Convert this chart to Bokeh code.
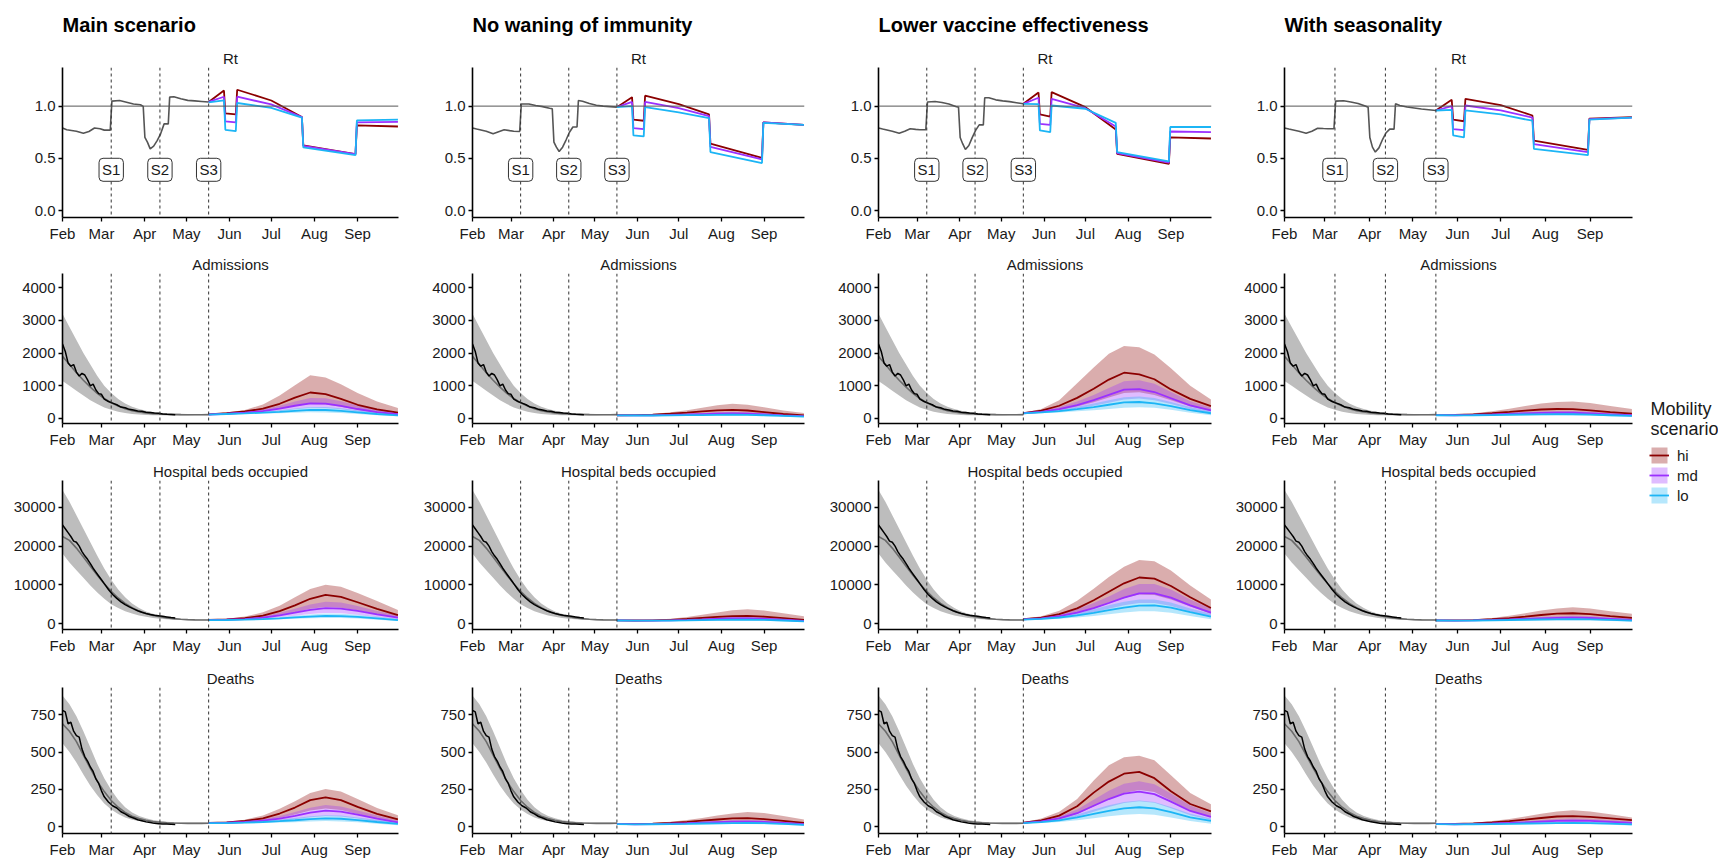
from bokeh.plotting import figure
from bokeh.models import (Range1d, FixedTicker, Span, Label, Title, Legend,
                          LegendItem, NumeralTickFormatter)
from bokeh.layouts import row, column
from bokeh.embed import file_html
from bokeh.resources import INLINE

FONT = "Liberation Sans"

# ---------------- axes / labels ----------------
MONTH_TICKS = [0, 28, 59, 89, 120, 150, 181, 212]          # days since 1 Feb
MONTH_LABELS = ["Feb", "Mar", "Apr", "May", "Jun", "Jul", "Aug", "Sep"]
STEP_DAYS = [35, 70, 105]
STEP_LABELS = ["S1", "S2", "S3"]
COLS = ["main", "nowane", "lowve", "season"]
COL_TITLES = ["Main scenario", "No waning of immunity",
              "Lower vaccine effectiveness", "With seasonality"]
METRICS = ["rt", "adm", "beds", "deaths"]
ROW_TITLES = ["Rt", "Admissions", "Hospital beds occupied", "Deaths"]
Y_TICKS = [[0, 0.5, 1.0], [0, 1000, 2000, 3000, 4000],
           [0, 10000, 20000, 30000], [0, 250, 500, 750]]
SCEN = ["hi", "md", "lo"]
LEGEND_TITLE = "Mobility\nscenario"

# ---------------- Rt ----------------
RT_HIST_DAYS = [0, 3, 10, 15, 19, 23, 27, 30, 34.3, 35.5, 41, 46, 51, 56, 58, 59.2, 61, 63,
                65.5, 68, 70.5, 73, 76, 77, 80, 85, 90, 95, 100, 105]
rt_hist_main = [0.79, 0.773, 0.76, 0.74, 0.757, 0.79, 0.783, 0.77, 0.77, 1.048, 1.054, 1.038,
                1.02, 1.013, 0.997, 0.70, 0.655, 0.59, 0.617, 0.67, 0.735, 0.83, 0.83, 1.086,
                1.09, 1.07, 1.055, 1.05, 1.045, 1.04]
rt_hist_nowane = [0.79, 0.78, 0.76, 0.735, 0.755, 0.773, 0.765, 0.76, 0.757, 1.02, 1.02, 1.006,
                  0.995, 0.98, 0.975, 0.655, 0.607, 0.565, 0.607, 0.675, 0.75, 0.80, 0.80, 1.054,
                  1.047, 1.025, 1.008, 1.0, 0.995, 0.99]
rt_hist_lowve = [0.79, 0.78, 0.76, 0.74, 0.76, 0.783, 0.777, 0.773, 0.773, 1.04, 1.045, 1.035,
                 1.02, 0.997, 0.99, 0.70, 0.64, 0.585, 0.623, 0.70, 0.77, 0.82, 0.82, 1.08,
                 1.08, 1.06, 1.05, 1.043, 1.033, 1.022]
rt_hist_season = [0.79, 0.78, 0.76, 0.74, 0.76, 0.788, 0.785, 0.783, 0.783, 1.048, 1.052, 1.04,
                  1.025, 1.0, 0.99, 0.70, 0.607, 0.56, 0.60, 0.68, 0.745, 0.78, 0.78, 1.022,
                  1.006, 0.992, 0.982, 0.972, 0.965, 0.958]

RT_PROJ_DAYS = [105, 116, 117, 124.5, 125.5, 150, 172, 173, 210.5, 211.5, 241]
rt_main_hi = [1.04, 1.15, 0.93, 0.92, 1.157, 1.054, 0.895, 0.625, 0.54, 0.815, 0.805]
rt_main_md = [1.04, 1.09, 0.853, 0.845, 1.09, 1.016, 0.895, 0.62, 0.54, 0.845, 0.85]
rt_main_lo = [1.035, 1.055, 0.773, 0.76, 1.03, 0.984, 0.89, 0.605, 0.53, 0.863, 0.87]
rt_nowane_hi = [0.99, 1.086, 0.87, 0.86, 1.10, 1.02, 0.92, 0.64, 0.505, 0.845, 0.82]
rt_nowane_md = [0.99, 1.04, 0.79, 0.78, 1.04, 0.98, 0.905, 0.61, 0.49, 0.845, 0.82]
rt_nowane_lo = [0.99, 1.0, 0.72, 0.71, 0.99, 0.94, 0.885, 0.56, 0.455, 0.84, 0.82]
rt_lowve_hi = [1.022, 1.13, 0.92, 0.90, 1.134, 0.99, 0.776, 0.543, 0.447, 0.70, 0.69]
rt_lowve_md = [1.022, 1.08, 0.83, 0.82, 1.07, 0.98, 0.805, 0.55, 0.46, 0.757, 0.75]
rt_lowve_lo = [1.022, 1.02, 0.767, 0.75, 1.006, 0.975, 0.84, 0.56, 0.47, 0.80, 0.80]
rt_season_hi = [0.958, 1.06, 0.87, 0.855, 1.07, 1.01, 0.91, 0.67, 0.58, 0.88, 0.895]
rt_season_md = [0.958, 1.0, 0.78, 0.77, 1.006, 0.96, 0.89, 0.635, 0.56, 0.875, 0.89]
rt_season_lo = [0.958, 0.965, 0.72, 0.70, 0.96, 0.92, 0.86, 0.59, 0.53, 0.87, 0.89]

# ---------------- observed data ----------------
OBS_DAYS = [0, 2, 4, 6, 8, 10, 12, 14, 16, 18, 20, 22, 24, 26, 28, 30, 33, 36, 39, 42, 45,
            48, 51, 54, 57, 60, 63, 66, 69, 72, 75, 78, 81]
adm_obs = [2280, 2050, 1700, 1600, 1650, 1420, 1300, 1380, 1330, 1180, 1000, 1050, 870, 760,
           740, 590, 520, 470, 420, 350, 330, 280, 260, 230, 220, 190, 185, 165, 160, 140,
           130, 125, 115]
beds_obs = [25500, 24500, 23500, 22500, 21300, 21000, 20000, 18600, 17500, 16600, 15500,
            14300, 13300, 12300, 11300, 10300, 8800, 7500, 6500, 5600, 4900, 4300, 3800, 3300,
            2900, 2600, 2350, 2150, 2000, 1850, 1700, 1550, 1450]
deaths_obs = [780, 770, 690, 700, 640, 610, 600, 520, 470, 440, 400, 370, 320, 290, 240, 200,
              165, 140, 125, 100, 85, 68, 58, 46, 40, 32, 28, 22, 20, 18, 17, 16, 15]

# ---------------- model fit to data ----------------
HIST_DAYS = [0, 5, 10, 15, 20, 25, 30, 35, 40, 45, 50, 55, 60, 65, 70, 75, 80, 85, 90, 95,
             100, 105]
adm_fit = [1900, 1650, 1400, 1170, 960, 770, 610, 480, 380, 300, 240, 200, 170, 150, 137,
           128, 122, 118, 116, 115, 116, 118]
adm_fit_lwr = [1150, 1000, 850, 700, 560, 440, 340, 265, 210, 170, 140, 120, 108, 100, 96,
               94, 93, 93, 94, 96, 98, 100]
adm_fit_upr = [3200, 2800, 2400, 2000, 1650, 1300, 1000, 780, 600, 460, 360, 290, 240, 200,
               175, 160, 150, 142, 138, 135, 135, 135]
beds_fit = [22500, 21500, 19500, 17200, 14800, 12500, 10300, 8300, 6600, 5200, 4100, 3200,
            2600, 2100, 1750, 1450, 1250, 1100, 1000, 950, 920, 900]
beds_fit_lwr = [18100, 15800, 13800, 11800, 9800, 8000, 6400, 5000, 4000, 3200, 2600, 2100,
                1750, 1450, 1250, 1100, 1000, 920, 870, 840, 830, 820]
beds_fit_upr = [34500, 31500, 28000, 24500, 21000, 17500, 14200, 11300, 8800, 6800, 5200,
                4000, 3100, 2500, 2000, 1650, 1400, 1250, 1150, 1080, 1040, 1020]
deaths_fit = [690, 640, 570, 480, 390, 305, 235, 175, 130, 95, 70, 54, 42, 34, 29, 26, 24,
              23, 22, 22, 22, 23]
deaths_fit_lwr = [560, 500, 430, 350, 275, 210, 155, 115, 85, 62, 47, 37, 30, 25, 22, 20, 19,
                  18, 18, 18, 18, 19]
deaths_fit_upr = [880, 820, 740, 640, 530, 420, 325, 245, 180, 130, 95, 72, 56, 45, 38, 33,
                  30, 28, 27, 27, 27, 27]

# ---------------- projections ----------------
PROJ_DAYS = [105, 118, 131, 144, 156, 167, 178, 189, 200, 212, 226, 241]

adm_main_hi = [125, 165, 215, 300, 450, 640, 795, 745, 600, 420, 280, 180]
adm_main_hi_lwr = [115, 145, 180, 230, 300, 380, 440, 425, 360, 265, 175, 120]
adm_main_hi_upr = [135, 180, 260, 430, 700, 1020, 1320, 1250, 1050, 780, 520, 320]
adm_main_md = [122, 145, 180, 225, 300, 390, 465, 455, 385, 290, 195, 130]
adm_main_md_lwr = [115, 132, 155, 185, 230, 280, 325, 320, 280, 215, 145, 100]
adm_main_md_upr = [128, 160, 205, 280, 390, 520, 630, 620, 530, 395, 270, 180]
adm_main_lo = [120, 137, 155, 178, 205, 235, 262, 260, 232, 190, 137, 95]
adm_main_lo_lwr = [112, 123, 136, 150, 163, 176, 188, 186, 170, 140, 102, 70]
adm_main_lo_upr = [125, 146, 172, 210, 255, 305, 352, 350, 310, 255, 185, 130]

beds_main_hi = [920, 1050, 1400, 2050, 3200, 4700, 6400, 7400, 6900, 5500, 3800, 2150]
beds_main_hi_lwr = [880, 930, 1100, 1450, 2100, 2900, 3800, 4300, 4100, 3400, 2400, 1400]
beds_main_hi_upr = [950, 1200, 1800, 2900, 4600, 6800, 8900, 10000, 9500, 7900, 5800, 3500]
beds_main_md = [900, 980, 1150, 1500, 2100, 2800, 3550, 4000, 3850, 3250, 2350, 1500]
beds_main_md_lwr = [870, 890, 980, 1200, 1600, 2000, 2450, 2700, 2650, 2250, 1650, 1050]
beds_main_md_upr = [920, 1050, 1350, 1900, 2800, 3800, 4900, 5600, 5400, 4500, 3250, 2100]
beds_main_lo = [890, 910, 1000, 1150, 1350, 1580, 1800, 1950, 1920, 1720, 1320, 900]
beds_main_lo_lwr = [860, 860, 900, 980, 1100, 1240, 1370, 1450, 1430, 1280, 980, 650]
beds_main_lo_upr = [910, 960, 1100, 1350, 1650, 2000, 2350, 2600, 2550, 2250, 1750, 1250]

deaths_main_hi = [25, 29, 38, 55, 88, 128, 178, 196, 178, 132, 85, 48]
deaths_main_hi_lwr = [22, 24, 30, 40, 58, 82, 108, 122, 112, 85, 52, 28]
deaths_main_hi_upr = [27, 33, 46, 75, 120, 170, 225, 252, 235, 185, 125, 76]
deaths_main_md = [24, 26, 31, 40, 54, 72, 94, 108, 100, 80, 53, 28]
deaths_main_md_lwr = [22, 23, 26, 31, 39, 50, 63, 72, 68, 54, 35, 18]
deaths_main_md_upr = [26, 29, 37, 51, 72, 98, 126, 145, 135, 108, 75, 42]
deaths_main_lo = [23, 24, 27, 31, 37, 43, 50, 55, 53, 44, 31, 18]
deaths_main_lo_lwr = [21, 21, 22, 24, 27, 30, 34, 37, 35, 29, 19, 10]
deaths_main_lo_upr = [25, 27, 31, 38, 48, 58, 69, 77, 74, 62, 46, 27]

adm_nowane_hi = [100, 104, 118, 145, 180, 215, 248, 265, 245, 195, 138, 95]
adm_nowane_hi_lwr = [95, 95, 98, 108, 125, 142, 158, 165, 155, 128, 93, 60]
adm_nowane_hi_upr = [105, 112, 140, 190, 255, 330, 405, 450, 420, 345, 245, 170]
adm_nowane_md = [98, 96, 98, 108, 122, 135, 148, 155, 150, 128, 98, 70]
adm_nowane_md_lwr = [94, 90, 90, 92, 98, 105, 112, 115, 110, 96, 73, 50]
adm_nowane_md_upr = [102, 101, 108, 125, 148, 170, 190, 200, 193, 167, 132, 95]
adm_nowane_lo = [96, 92, 91, 95, 101, 106, 111, 114, 112, 100, 80, 58]
adm_nowane_lo_lwr = [92, 86, 84, 85, 87, 90, 93, 94, 91, 80, 60, 42]
adm_nowane_lo_upr = [100, 97, 98, 105, 115, 124, 133, 138, 135, 122, 98, 72]

beds_nowane_hi = [800, 775, 820, 950, 1170, 1450, 1730, 1930, 1990, 1780, 1380, 950]
beds_nowane_hi_lwr = [770, 735, 745, 800, 900, 1010, 1140, 1250, 1300, 1190, 940, 650]
beds_nowane_hi_upr = [830, 820, 940, 1250, 1700, 2250, 2850, 3400, 3700, 3380, 2650, 1900]
beds_nowane_md = [790, 755, 770, 830, 940, 1060, 1190, 1290, 1320, 1210, 970, 700]
beds_nowane_md_lwr = [760, 705, 700, 720, 765, 815, 865, 910, 920, 855, 695, 480]
beds_nowane_md_upr = [810, 785, 840, 960, 1150, 1350, 1560, 1740, 1800, 1670, 1340, 950]
beds_nowane_lo = [780, 735, 735, 765, 820, 880, 935, 975, 990, 925, 775, 560]
beds_nowane_lo_lwr = [750, 695, 670, 680, 700, 720, 750, 770, 770, 715, 585, 400]
beds_nowane_lo_upr = [800, 762, 780, 840, 930, 1020, 1110, 1170, 1200, 1125, 945, 700]

deaths_nowane_hi = [18, 17, 20, 25, 32, 40, 48, 55, 57, 51, 39, 25]
deaths_nowane_hi_lwr = [16, 15, 16, 18, 22, 25, 29, 33, 35, 32, 25, 14]
deaths_nowane_hi_upr = [20, 19, 24, 33, 45, 58, 74, 88, 98, 91, 71, 48]
deaths_nowane_md = [18, 16, 17, 20, 23, 27, 30, 33, 34, 32, 25, 16]
deaths_nowane_md_lwr = [16, 14, 15, 15, 17, 19, 21, 22, 23, 21, 16, 9]
deaths_nowane_md_upr = [19, 17, 19, 23, 28, 33, 38, 43, 45, 42, 34, 22]
deaths_nowane_lo = [17, 15, 16, 17, 19, 21, 22, 24, 25, 23, 18, 12]
deaths_nowane_lo_lwr = [15, 13, 14, 14, 15, 15, 16, 17, 17, 16, 12, 6]
deaths_nowane_lo_upr = [19, 16, 17, 20, 22, 25, 27, 30, 31, 29, 24, 16]

adm_lowve_hi = [165, 240, 390, 630, 912, 1190, 1400, 1350, 1200, 890, 600, 380]
adm_lowve_hi_lwr = [150, 190, 260, 370, 500, 640, 780, 800, 720, 560, 370, 230]
adm_lowve_hi_upr = [175, 290, 560, 1080, 1560, 1980, 2220, 2180, 1960, 1540, 1000, 580]
adm_lowve_md = [160, 205, 285, 410, 560, 720, 880, 900, 810, 620, 400, 250]
adm_lowve_md_lwr = [150, 180, 230, 300, 390, 480, 580, 610, 560, 440, 285, 170]
adm_lowve_md_upr = [170, 235, 350, 520, 720, 930, 1140, 1170, 1060, 810, 530, 330]
adm_lowve_lo = [155, 185, 225, 285, 350, 420, 490, 505, 465, 375, 255, 160]
adm_lowve_lo_lwr = [145, 160, 185, 220, 255, 290, 330, 345, 325, 265, 175, 100]
adm_lowve_lo_upr = [165, 205, 265, 360, 460, 560, 650, 675, 625, 505, 355, 230]

beds_lowve_hi = [1100, 1500, 2400, 3900, 6000, 8200, 10400, 11900, 11600, 9700, 6800, 4000]
beds_lowve_hi_lwr = [1000, 1250, 1800, 2700, 3900, 5200, 6600, 7500, 7400, 6200, 4400, 2500]
beds_lowve_hi_upr = [1200, 1850, 3300, 5900, 9000, 12000, 14700, 16400, 16100, 13700, 9800,
                     6200]
beds_lowve_md = [1050, 1350, 1900, 2800, 4000, 5300, 6700, 7800, 7800, 6700, 4700, 2800]
beds_lowve_md_lwr = [950, 1150, 1500, 2100, 2900, 3800, 4700, 5300, 5300, 4500, 3100, 1800]
beds_lowve_md_upr = [1150, 1600, 2500, 3700, 5300, 7000, 8900, 10200, 10200, 8800, 6200, 3800]
beds_lowve_lo = [1000, 1200, 1550, 2100, 2750, 3450, 4100, 4600, 4700, 4100, 2950, 1800]
beds_lowve_lo_lwr = [900, 1000, 1200, 1550, 1950, 2400, 2850, 3150, 3200, 2800, 1950, 1100]
beds_lowve_lo_upr = [1100, 1380, 1900, 2750, 3700, 4700, 5600, 6200, 6200, 5400, 3900, 2500]

deaths_lowve_hi = [26, 42, 74, 137, 228, 302, 355, 367, 325, 237, 152, 102]
deaths_lowve_hi_lwr = [24, 33, 50, 85, 135, 185, 225, 245, 232, 175, 105, 65]
deaths_lowve_hi_upr = [28, 55, 100, 185, 310, 412, 465, 476, 445, 345, 225, 150]
deaths_lowve_md = [25, 35, 55, 90, 140, 185, 222, 235, 218, 168, 105, 65]
deaths_lowve_md_lwr = [23, 29, 42, 65, 100, 132, 158, 170, 160, 123, 76, 45]
deaths_lowve_md_upr = [27, 42, 68, 115, 180, 240, 288, 305, 285, 222, 142, 90]
deaths_lowve_lo = [24, 30, 42, 62, 85, 106, 122, 130, 122, 97, 62, 38]
deaths_lowve_lo_lwr = [22, 25, 31, 43, 57, 70, 80, 85, 80, 62, 38, 20]
deaths_lowve_lo_upr = [26, 35, 52, 82, 115, 143, 165, 175, 165, 131, 86, 55]

adm_season_hi = [105, 108, 128, 160, 200, 240, 275, 290, 285, 250, 195, 150]
adm_season_hi_lwr = [100, 96, 104, 120, 140, 158, 172, 180, 176, 152, 112, 80]
adm_season_hi_upr = [110, 120, 160, 225, 300, 380, 460, 505, 520, 475, 380, 290]
adm_season_md = [102, 100, 110, 125, 142, 157, 170, 176, 175, 158, 128, 100]
adm_season_md_lwr = [98, 91, 93, 98, 106, 114, 120, 122, 120, 106, 82, 60]
adm_season_md_upr = [106, 106, 122, 148, 172, 196, 216, 226, 228, 210, 174, 140]
adm_season_lo = [100, 96, 100, 106, 114, 122, 128, 131, 130, 120, 100, 78]
adm_season_lo_lwr = [96, 89, 89, 92, 96, 100, 103, 104, 102, 93, 72, 52]
adm_season_lo_upr = [104, 101, 108, 118, 131, 144, 154, 159, 160, 148, 125, 100]

beds_season_hi = [800, 795, 890, 1100, 1400, 1780, 2200, 2530, 2650, 2400, 1920, 1470]
beds_season_hi_lwr = [770, 750, 790, 880, 1020, 1180, 1350, 1500, 1550, 1400, 1080, 800]
beds_season_hi_upr = [830, 845, 1050, 1450, 2000, 2650, 3350, 3900, 4200, 3900, 3150, 2500]
beds_season_md = [790, 765, 820, 920, 1050, 1190, 1330, 1440, 1500, 1420, 1190, 950]
beds_season_md_lwr = [760, 728, 745, 790, 850, 910, 970, 1020, 1040, 980, 790, 600]
beds_season_md_upr = [810, 800, 895, 1060, 1270, 1480, 1700, 1880, 1980, 1880, 1580, 1280]
beds_season_lo = [780, 748, 780, 835, 905, 975, 1040, 1085, 1110, 1060, 915, 740]
beds_season_lo_lwr = [750, 708, 720, 745, 775, 805, 840, 860, 860, 810, 675, 520]
beds_season_lo_upr = [800, 775, 830, 920, 1040, 1150, 1260, 1340, 1380, 1320, 1140, 930]

deaths_season_hi = [18, 18, 21, 28, 37, 47, 58, 68, 71, 66, 55, 43]
deaths_season_hi_lwr = [16, 15, 17, 20, 24, 28, 33, 38, 40, 37, 30, 22]
deaths_season_hi_upr = [20, 20, 26, 37, 52, 68, 86, 102, 110, 102, 83, 62]
deaths_season_md = [18, 16, 18, 21, 25, 29, 34, 38, 40, 38, 32, 25]
deaths_season_md_lwr = [16, 14, 15, 16, 18, 20, 22, 23, 24, 22, 18, 12]
deaths_season_md_upr = [19, 18, 20, 25, 32, 38, 45, 51, 54, 51, 44, 35]
deaths_season_lo = [17, 15, 16, 17, 19, 21, 22, 24, 25, 24, 20, 15]
deaths_season_lo_lwr = [15, 13, 14, 14, 15, 15, 16, 17, 17, 16, 13, 8]
deaths_season_lo_upr = [19, 16, 17, 20, 23, 26, 29, 31, 33, 31, 27, 21]

# ---------------- styling ----------------
LINE_COL = {"hi": "#8B0000", "md": "#9B30FF", "lo": "#1CB5F5"}
BAND_COL = {"hi": "#8B0000", "md": "#9B30FF", "lo": "#1CB5F5"}
BAND_ALPHA = 0.32
Y_RANGES = [(-0.067, 1.37), (-153, 4434), (-1550, 36980), (-46, 933)]
X_END = 241.4
COL_W = [420, 406, 406, 410]
BL = [62, 49, 50, 50]
BR = [22, 22, 21, 10]
ROW_H = [245, 207, 207, 201]
BT = [67, 28, 28, 28]
BB = [28, 29, 30, 23]
LEGEND_W = 76
LEGEND_TOP = 445
TEXT_COL = "#1a1a1a"

G = globals()


def style_axis(ax):
    ax.axis_line_width = 1.6
    ax.axis_line_color = "black"
    ax.major_tick_line_color = "black"
    ax.major_tick_line_width = 1.3
    ax.major_tick_in = 0
    ax.major_tick_out = 4
    ax.minor_tick_line_color = None
    ax.major_label_text_font = FONT
    ax.major_label_text_font_size = "15px"
    ax.major_label_text_color = TEXT_COL
    ax.major_label_standoff = 3


def make_panel(ci, ri):
    c = COLS[ci]
    m = METRICS[ri]
    p = figure(width=COL_W[ci], height=ROW_H[ri], output_backend="svg",
               toolbar_location=None, x_range=Range1d(0, X_END),
               y_range=Range1d(*Y_RANGES[ri]),
               min_border_left=BL[ci], min_border_right=BR[ci],
               min_border_top=BT[ri], min_border_bottom=BB[ri],
               title=COL_TITLES[ci] if ri == 0 else ROW_TITLES[ri])
    p.title.text_font = FONT
    if ri == 0:
        p.title.align = "left"
        p.title.text_font_size = "20px"
        p.title.text_font_style = "bold"
        p.title.text_color = "black"
        p.title.standoff = 21
        p.add_layout(Title(text=ROW_TITLES[0], align="center", text_font=FONT,
                           text_font_size="15px", text_font_style="normal",
                           text_color=TEXT_COL, standoff=2), "above")
    else:
        p.title.align = "center"
        p.title.text_font_size = "15px"
        p.title.text_font_style = "normal"
        p.title.text_color = TEXT_COL
        p.title.standoff = 2
    p.grid.visible = False
    p.outline_line_color = None
    p.background_fill_color = "white"
    p.border_fill_color = "white"
    style_axis(p.xaxis[0])
    style_axis(p.yaxis[0])
    p.xaxis.ticker = FixedTicker(ticks=MONTH_TICKS)
    p.xaxis.major_label_overrides = {t: l for t, l in zip(MONTH_TICKS, MONTH_LABELS)}
    p.yaxis.ticker = FixedTicker(ticks=Y_TICKS[ri])
    p.yaxis.formatter = NumeralTickFormatter(format="0.0" if ri == 0 else "0")

    for d in STEP_DAYS:
        p.add_layout(Span(location=d, dimension="height", line_color="#333333",
                          line_dash="3 3", line_width=1))

    if ri == 0:
        p.add_layout(Span(location=1.0, dimension="width", line_color="#555555",
                          line_width=1))
        p.line(RT_HIST_DAYS, G[f"rt_hist_{c}"], line_color="#555555", line_width=1.6)
        for s in SCEN:
            p.line(RT_PROJ_DAYS, G[f"rt_{c}_{s}"], line_color=LINE_COL[s], line_width=1.8)
        for d, lab in zip(STEP_DAYS, STEP_LABELS):
            p.add_layout(Label(x=d, y=0.39, text=lab, text_align="center",
                               text_baseline="middle", text_font=FONT,
                               text_font_size="15px", text_color=TEXT_COL,
                               background_fill_color="white",
                               border_line_color="#333333", border_line_width=1,
                               border_radius=4, padding=3))
    else:
        p.varea(x=HIST_DAYS, y1=G[f"{m}_fit_lwr"], y2=G[f"{m}_fit_upr"],
                fill_color="#bdbdbd", fill_alpha=1.0)
        p.line(HIST_DAYS, G[f"{m}_fit"], line_color="#6b6b6b", line_width=1.6)
        p.line(OBS_DAYS, G[f"{m}_obs"], line_color="black", line_width=1.5)
        for s in SCEN:
            p.varea(x=PROJ_DAYS, y1=G[f"{m}_{c}_{s}_lwr"], y2=G[f"{m}_{c}_{s}_upr"],
                    fill_color=BAND_COL[s], fill_alpha=BAND_ALPHA)
        for s in SCEN:
            p.line(PROJ_DAYS, G[f"{m}_{c}_{s}"], line_color=LINE_COL[s], line_width=1.8)
    return p


columns = []
for ci in range(4):
    columns.append(column([make_panel(ci, ri) for ri in range(4)], spacing=0))

# ---------------- legend ----------------
TOTAL_H = sum(ROW_H)
lf = figure(width=LEGEND_W, height=TOTAL_H, output_backend="svg", toolbar_location=None,
            x_range=Range1d(0, 1), y_range=Range1d(0, 1),
            min_border_left=7, min_border_right=0, min_border_bottom=0,
            min_border_top=LEGEND_TOP, x_axis_type=None, y_axis_type=None,
            title=LEGEND_TITLE)
lf.title.align = "left"
lf.title.offset = 1
lf.title.text_font = FONT
lf.title.text_font_size = "18px"
lf.title.text_font_style = "normal"
lf.title.text_color = TEXT_COL
lf.title.text_line_height = 1.0
lf.title.standoff = 13
lf.grid.visible = False
lf.outline_line_color = None
items = []
for s in SCEN:
    rb = lf.varea(x=[5, 6], y1=[5, 5], y2=[6, 6], fill_color=BAND_COL[s],
                  fill_alpha=BAND_ALPHA)
    rl = lf.line(x=[5, 6], y=[5, 6], line_color=LINE_COL[s], line_width=1.8)
    items.append(LegendItem(label=s, renderers=[rb, rl]))
leg = Legend(items=items, location="top_left", padding=0, margin=0, spacing=0,
             glyph_width=20, glyph_height=20, label_height=20, label_standoff=8,
             label_text_font=FONT, label_text_font_size="15px",
             label_text_color=TEXT_COL, border_line_color=None,
             background_fill_alpha=0)
lf.add_layout(leg)

layout = row(columns + [lf], spacing=0)

open("out.html", "w").write(file_html(layout, INLINE))
